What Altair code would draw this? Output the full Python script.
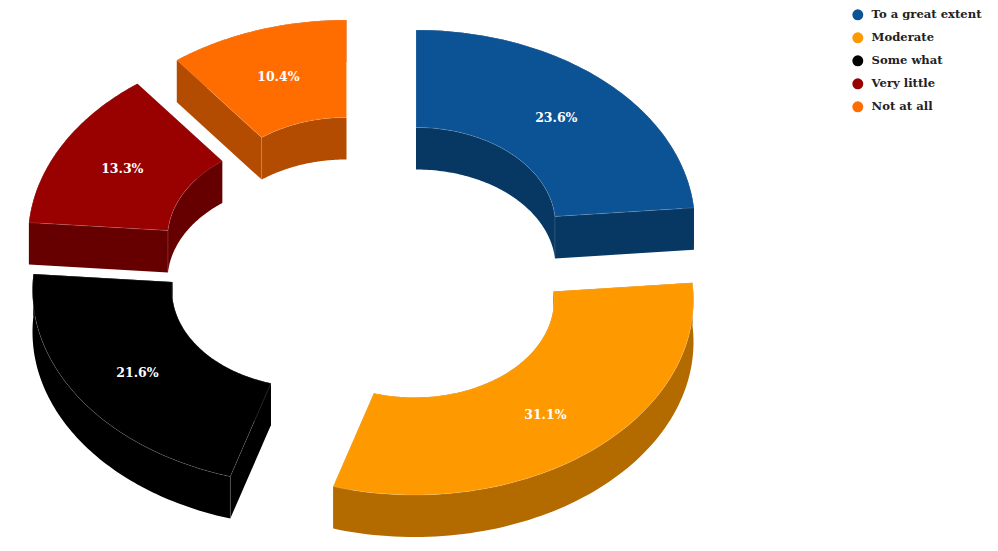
import numpy as np
import pandas as pd
import altair as alt

labels = ["To a great extent", "\u00a0Moderate", "Some what", "Very little", "Not at all"]
values = [23.6, 31.1, 21.6, 13.3, 10.4]
top_colors = ["#0B5394", "#FF9900", "#000000", "#990000", "#FF6D01"]
side_colors = ["#073763", "#B36B00", "#000001", "#660000", "#B34C00"]

# layout of the exploded ring, in page pixels
centres = [(416, 225), (414.5, 300), (311.5, 290), (307, 238.5), (346.5, 215)]
RX, RY, HOLE, DEPTH = 279.0, 195.0, 0.5, 42.0
PAGE_W, PAGE_H, M = 998, 551, 8
# visible vertical corners: slice index, radius factor, which end of the slice
corners = [(0, 0.5, 1), (2, 1.0, 0), (3, 0.5, 0), (4, 0.5, 0)]


def arc(c, a0, a1, k, dz=0.0):
    t = np.radians(np.linspace(a0, a1, 80))
    return c[0] + RX * k * np.sin(t), c[1] - RY * k * np.cos(t) + dz


def add(rows, pid, group, xs, ys):
    for i, (x, y) in enumerate(zip(xs, ys)):
        rows.append({"pid": pid, "group": group, "i": i, "x": float(x), "y": float(y)})


top_rows, side_rows, text_rows, corner_rows = [], [], [], []
edges = np.cumsum([0] + values) / sum(values) * 360
for n, (lab, c) in enumerate(zip(labels, centres)):
    a0, a1 = edges[n], edges[n + 1]
    ox, oy = arc(c, a0, a1, 1)
    ix, iy = arc(c, a1, a0, HOLE)
    add(top_rows, f"t{n}", lab, np.r_[ox, ix, ox[0]], np.r_[oy, iy, oy[0]])
    # side walls
    add(side_rows, f"o{n}", side_colors[n], np.r_[ox, ox[::-1]], np.r_[oy, oy[::-1] + DEPTH])
    add(side_rows, f"i{n}", side_colors[n], np.r_[ix, ix[::-1]], np.r_[iy, iy[::-1] + DEPTH])
    for j, (k0, k1) in enumerate([(0, -1), (-1, 0)]):
        p, q = (ox[k0], oy[k0]), (ix[k1], iy[k1])
        add(side_rows, f"c{n}{j}", side_colors[n],
            [p[0], q[0], q[0], p[0], p[0]],
            [p[1], q[1], q[1] + DEPTH, p[1] + DEPTH, p[1]])
    mid = np.radians((a0 + a1) / 2)
    text_rows.append({
        "x": c[0] + RX * 0.75 * np.sin(mid),
        "y": c[1] - RY * 0.75 * np.cos(mid),
        "t": f"{values[n]:.1f}%",
    })

for m, (n, k, end) in enumerate(corners):
    a = edges[n + end]
    cx, cy = arc(centres[n], a, a, k)
    add(corner_rows, f"v{m}", "edge", [cx[0], cx[0]], [cy[0], cy[0] + DEPTH])

W, H = PAGE_W - 2 * M, PAGE_H - 2 * M
xs = alt.Scale(domain=[M, M + W], range=[0, W], nice=False, zero=False)
ys = alt.Scale(domain=[M, M + H], range=[0, H], nice=False, zero=False)
X = alt.X("x:Q", scale=xs, axis=None)
Y = alt.Y("y:Q", scale=ys, axis=None)

sides = alt.Chart(pd.DataFrame(side_rows)).mark_line(
    strokeWidth=0, interpolate="linear"
).encode(
    x=X, y=Y, order="i:Q", detail="pid:N",
    fill=alt.Fill("group:N", scale=alt.Scale(domain=side_colors, range=side_colors), legend=None),
)

corner_lines = alt.Chart(pd.DataFrame(corner_rows)).mark_line(
    stroke="#ffffff", strokeOpacity=0.28, strokeWidth=0.5
).encode(x=X, y=Y, order="i:Q", detail="pid:N")

tops = alt.Chart(pd.DataFrame(top_rows)).mark_line(
    stroke="#ffffff", strokeOpacity=0.3, strokeWidth=0.5, interpolate="linear"
).encode(
    x=X, y=Y, order="i:Q", detail="pid:N",
    fill=alt.Fill(
        "group:N",
        scale=alt.Scale(domain=labels, range=top_colors),
        sort=labels,
        legend=alt.Legend(
            title=None, orient="none", legendX=844, legendY=1,
            symbolType="circle", symbolSize=120, symbolStrokeWidth=0,
            labelFont="DejaVu Serif", labelFontWeight="bold", labelFontSize=11.6,
            labelColor="#222222", labelOffset=8, rowPadding=10, labelLimit=200,
        ),
    ),
)

text = alt.Chart(pd.DataFrame(text_rows)).mark_text(
    font="DejaVu Serif", fontWeight="bold", fontSize=12.5, color="#ffffff",
    align="center", baseline="middle", dx=-1, dy=1,
).encode(x=X, y=Y, text="t:N")

chart = (
    alt.layer(sides, corner_lines, tops, text)
    .resolve_scale(fill="independent")
    .properties(width=W, height=H, padding=0, autosize=alt.AutoSizeParams(type="none"))
    .configure_view(stroke=None)
)
chart.save("out.html", embed_options={"renderer": "svg", "actions": False})
